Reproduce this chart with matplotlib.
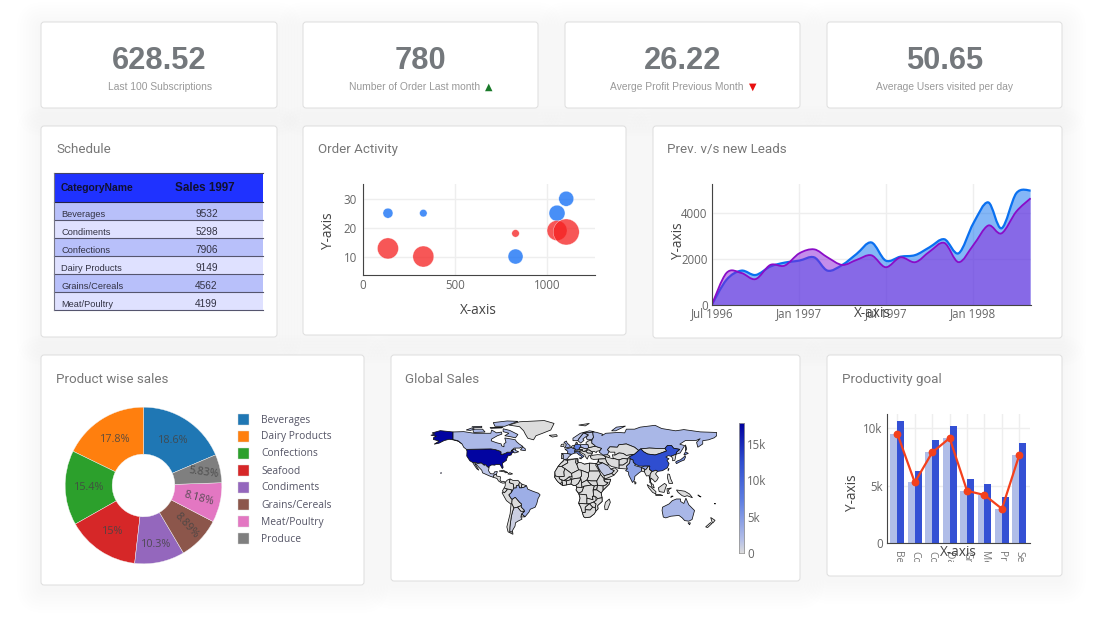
import numpy as np
import pandas as pd
import matplotlib
matplotlib.use("Agg")
import matplotlib.pyplot as plt
import matplotlib.dates as mdates
from matplotlib.colors import LinearSegmentedColormap, Normalize
from matplotlib.patches import FancyBboxPatch, PathPatch, Polygon, Rectangle
from matplotlib.path import Path
from matplotlib.transforms import Bbox

W, H = 1119, 629

# KPI cards
kpi_values = ["628.52", "780", "26.22", "50.65"]
kpi_labels = ["Last 100 Subscriptions", "Number of Order Last month", "Averge Profit Previous Month", "Average Users visited per day"]

# Schedule table
table_columns = ["CategoryName", "Sales 1997"]
table_names = ["Beverages", "Condiments", "Confections", "Dairy Products", "Grains/Cereals", "Meat/Poultry"]
table_sales = [9532, 5298, 7906, 9149, 4562, 4199]

# Order Activity bubbles
blue_x = [138, 330, 830, 1055, 1105]
blue_y = [25, 25, 10, 25, 30]
blue_size = [10, 7.5, 15, 16, 15]
red_x = [138, 330, 830, 1055, 1105]
red_y = [12.8, 10, 18, 19, 18.5]
red_size = [21, 21, 7.5, 20, 26]

# Prev vs new leads, monthly
lead_months = pd.date_range("1996-07-01", "1998-05-01", freq="MS")
prev_leads = [0, 1100, 1500, 1310, 1680, 1850, 1940, 2080, 1500, 1750, 2230, 2730, 1940, 2110, 2180, 2520, 2870, 2260, 3570, 4480, 3350, 4880, 5000]
new_leads = [0, 1400, 1400, 1130, 1750, 1720, 2260, 2430, 2080, 1750, 1970, 2170, 1650, 2080, 1870, 2330, 2710, 1870, 2620, 3470, 3130, 4080, 4660]

# Product wise sales
pie_names = ["Beverages", "Dairy Products", "Confections", "Seafood", "Condiments", "Grains/Cereals", "Meat/Poultry", "Produce"]
pie_values = [18.6, 17.8, 15.4, 15.0, 10.3, 8.89, 8.18, 5.83]
pie_labels = ["18.6%", "17.8%", "15.4%", "15%", "10.3%", "8.89%", "8.18%", "5.83%"]
pie_colors = ["#1f77b4", "#ff7f0e", "#2ca02c", "#d62728", "#9467bd", "#8c564b", "#e377c2", "#7f7f7f"]

# Productivity goal
goal_names = ["Beverages", "Condiments", "Confections", "Dairy Products", "Grains/Cereals", "Meat/Poultry", "Produce", "Seafood"]
goal_1997 = [9532, 5298, 7906, 9149, 4562, 4199, 3000, 7700]
goal_1998 = [10600, 6300, 9000, 10200, 5600, 5200, 4000, 8750]

# Global sales, rough country outlines as (lon, lat)
world = {
    "africa_base": [(-5.9,35.8),(9,37),(11,37),(11.5,32.5),(19,30.3),(25,31.6),(34,31.2),(37,22),(38.5,18),(43,12.5),(51,12),(49,6),(41.5,-1.5),(39.3,-4.7),(40.4,-10.5),(40.5,-15),(35,-20),(35.5,-24),(32.8,-26.8),(31,-30),(26,-34),(20,-34.8),(18,-33.5),(14.5,-22),(12,-17.3),(13.7,-11),(12.3,-6),(8.8,-1),(9.8,2.3),(8.5,4.6),(6,4.3),(2.7,6.3),(-2.8,5.2),(-7.5,4.4),(-13.3,9),(-17.4,14.7),(-17,21),(-13,27.7),(-9.8,31.5)],
    "usa": [(-124.7,48.4),(-95,49),(-89,48),(-84.5,46.5),(-82.5,45.3),(-82.5,42),(-79,43),(-76.5,44),(-75,45),(-71,45),(-69,47.3),(-67,45),(-70,43.5),(-70,41.7),(-74,40.5),(-75.5,37.5),(-76,35),(-81,31.5),(-80,26.5),(-81,25),(-82.7,28),(-84,30),(-89,30),(-90,29.2),(-94,29.5),(-97.3,27.5),(-97.2,25.9),(-99.5,27.5),(-101.5,29.8),(-103,29),(-106.5,31.8),(-111,31.3),(-114.8,32.5),(-117.1,32.5),(-120.5,34.5),(-122.5,37.5),(-124.3,40.3),(-124,46)],
    "alaska": [(-141,69.6),(-141,60.3),(-135,59),(-130,55),(-133,57.5),(-139,59.8),(-146,60.7),(-152,59),(-158,56),(-164,54.7),(-158,58.5),(-165,60.5),(-164.5,63),(-161,64.5),(-168,65.6),(-163,67),(-166.5,68.4),(-156.5,71.2)],
    "canada": [(-141,69.6),(-128,70),(-115,68),(-108,68),(-95,68),(-94,72),(-88,68.5),(-82,69.5),(-81.5,67),(-87,65),(-94,61),(-94.5,58.8),(-88,56.5),(-82.3,55),(-82,52.8),(-79,51.5),(-79,55),(-76.5,57),(-78,62.3),(-70,61),(-65,60),(-64,58),(-60.5,55),(-56,52),(-60,50),(-66.5,50),(-70,47),(-65,49),(-64.8,47),(-61,45.5),(-66,44),(-67,45),(-69,47.3),(-71,45),(-75,45),(-76.5,44),(-79,43),(-82.5,42),(-82.5,45.3),(-84.5,46.5),(-89,48),(-95,49),(-124.7,48.4),(-128,51),(-130,55),(-135,59),(-141,60.3)],
    "baffin": [(-80,73.5),(-72,71.5),(-62,66.5),(-65,62.5),(-72,64),(-78,65),(-73,68),(-80,70)],
    "victoria": [(-117,73),(-105,73),(-102,69.5),(-116,69)],
    "ellesmere": [(-90,76.5),(-78,76.5),(-62,82.5),(-75,83),(-92,81)],
    "banks": [(-125,72),(-118,74.5),(-115,73),(-120,71.5)],
    "devon": [(-96,75),(-80,75.5),(-82,74.5),(-95,74)],
    "melville": [(-118,76),(-106,76.5),(-106,75),(-116,74.8)],
    "newfoundland": [(-59,47.7),(-53,46.8),(-53,49),(-56,51.5),(-58,49)],
    "greenland": [(-73,78),(-60,82),(-30,83.5),(-18,80),(-22,72),(-32,68),(-40,65),(-43,60),(-50,62),(-53,67),(-55,71),(-60,76)],
    "mexico": [(-117.1,32.5),(-114.8,32.5),(-111,31.3),(-106.5,31.8),(-103,29),(-101.5,29.8),(-99.5,27.5),(-97.2,25.9),(-97.8,22.5),(-95.5,18.8),(-91.5,18.5),(-90.5,21),(-87,21.5),(-88.2,18),(-91,17.2),(-92.2,14.5),(-96,15.8),(-105,19.8),(-106,23),(-109.5,26.5),(-112.5,30),(-114.7,31.5),(-112,27),(-109.5,23),(-112,24.7),(-115,29)],
    "central_america": [(-92.2,14.5),(-91,17.2),(-88.2,18),(-88,16),(-83.2,15),(-83.7,11),(-82.5,9.5),(-79.5,9.5),(-77.3,8.5),(-78,7.5),(-80.5,7.3),(-83,8.2),(-85.7,10),(-87.5,13)],
    "cuba": [(-85,22),(-80,23),(-74.2,20.2),(-77.5,19.9),(-78,21)],
    "hispaniola": [(-74.4,18.5),(-72,20),(-68.4,18.6),(-71,18)],
    "hawaii": [(-156,19),(-155,19.7),(-155.8,20.2)],
    "colombia": [(-77.3,8.5),(-75,11),(-71.5,12.4),(-72.5,8),(-67.5,6.2),(-67,1.2),(-70,-4.2),(-70.2,-0.5),(-75,0),(-78.8,1.4),(-77.5,4)],
    "venezuela": [(-71.5,12.4),(-68,10.6),(-62,10.7),(-60,8.5),(-61,5),(-64,4),(-64,1.5),(-67,1.2),(-67.5,6.2),(-72.5,8)],
    "guyana": [(-60,8.5),(-57,6),(-58,1.5),(-60,1.5),(-61,5)],
    "suriname": [(-57,6),(-51.6,4.2),(-54.5,2.3),(-58,1.5)],
    "ecuador": [(-80.8,-2),(-78.8,1.4),(-75,0),(-75.5,-1.5),(-78.5,-4.5),(-80,-3.5)],
    "peru": [(-81.3,-4.5),(-80,-3.5),(-78.5,-4.5),(-75.5,-1.5),(-75,0),(-70.2,-0.5),(-70,-4.2),(-73,-7),(-70.5,-11),(-69,-12.5),(-69.5,-17.5),(-70.4,-18.3),(-76,-14)],
    "brazil": [(-51.6,4.2),(-50,0),(-44,-2.5),(-37,-5),(-35,-7),(-37.5,-11.5),(-39,-17.5),(-41,-22),(-47,-24.5),(-48.6,-28),(-53.4,-33.7),(-57.6,-30.2),(-54,-27),(-54.5,-25.5),(-58,-22),(-58,-20),(-57.8,-18),(-60.2,-16),(-65.3,-10),(-69,-12.5),(-70.5,-11),(-73,-7),(-70,-4.2),(-67,1.2),(-64,1.5),(-64,4),(-61,5),(-60,1.5),(-58,1.5),(-54.5,2.3)],
    "bolivia": [(-69,-12.5),(-65.3,-10),(-60.2,-16),(-57.8,-18),(-58,-20),(-62.5,-22),(-67,-23),(-69.5,-17.5)],
    "paraguay": [(-62.5,-22),(-58,-20),(-58,-22),(-54.5,-25.5),(-54.7,-27),(-58.5,-27)],
    "uruguay": [(-57.6,-30.2),(-53.4,-33.7),(-58.4,-34)],
    "argentina": [(-67,-23),(-62.5,-22),(-58.5,-27),(-54,-27),(-57.6,-30.2),(-58.4,-34),(-57,-36.5),(-62,-39),(-65,-41),(-65.5,-45),(-69,-51),(-68.4,-52.3),(-72,-52),(-71.8,-46),(-71,-40),(-70,-33),(-68.5,-27)],
    "chile": [(-69.5,-17.5),(-67,-23),(-68.5,-27),(-70,-33),(-71,-40),(-71.8,-46),(-72,-52),(-68.4,-52.3),(-68,-55),(-74,-52),(-75.5,-46),(-73.5,-38),(-71.5,-30),(-70.4,-18.3)],
    "morocco": [(-5.9,35.8),(-2,35),(-1.2,32),(-8.7,27.7),(-13,27.7),(-9.8,31.5),(-7,33.8)],
    "mauritania": [(-13,27.7),(-8.7,27.7),(-4.8,25),(-6,21),(-5.5,15.5),(-12,15),(-16.5,16),(-17,21)],
    "algeria": [(-2,35),(9,37),(8.3,32.5),(9.8,30),(12,23.5),(3.3,19),(-4.8,25),(-8.7,27.7),(-1.2,32)],
    "tunisia": [(9,37),(11,37),(10.2,34),(11.5,32.5),(9.8,30),(8.3,32.5)],
    "libya": [(11.5,32.5),(15,32.3),(19,30.3),(25,31.6),(25,20),(24,19.5),(15,23),(12,23.5),(9.8,30)],
    "egypt": [(25,31.6),(34,31.2),(32.5,29.5),(37,22),(25,22)],
    "mali": [(-12,15),(-5.5,15.5),(-6,21),(-4.8,25),(3.3,19),(4,15.3),(0.5,15),(-3,12),(-6,10.5),(-8.5,11),(-11.5,12.5)],
    "niger": [(4,15.3),(3.3,19),(12,23.5),(15,23),(15.5,16),(13.5,13.5),(8,13),(3.5,11.8)],
    "chad": [(15,23),(24,19.5),(24,15.5),(22,11),(15.5,7.5),(14.5,12.5),(13.5,13.5),(15.5,16)],
    "sudan": [(24,20),(25,22),(37,22),(38.5,18),(36.5,14.3),(34,10),(27,10),(22,11),(24,15.5)],
    "south_sudan": [(27,10),(34,10),(35,5),(31,3.7),(27.5,5),(24,8.5),(22,11)],
    "ethiopia": [(36.5,14.3),(38.5,18),(43,12.5),(42.5,11),(44,9),(48,8),(45,5),(41.5,3.9),(36,4.5),(35,5),(34,10)],
    "somalia": [(43,11.5),(51,12),(49,6),(41.5,-1.5),(41.5,3.9),(45,5),(48,8),(44,9)],
    "senegal": [(-16.5,16),(-12,15),(-11.5,12.5),(-8.5,11),(-8,8),(-10.8,6.8),(-13.3,9),(-15,11),(-17.4,14.7)],
    "ivory_coast": [(-8.5,11),(-6,10.5),(-3,10),(-2.8,5.2),(-7.5,4.4),(-8,8)],
    "liberia": [(-10.8,6.8),(-8,8),(-7.5,4.4)],
    "burkina": [(-6,10.5),(-3,12),(0.5,15),(3.5,11.8),(0,10.8),(-3,10)],
    "ghana": [(-3,10),(0,10.8),(3.5,11.8),(2.7,6.3),(-2.8,5.2)],
    "nigeria": [(2.7,6.3),(3.5,11.8),(8,13),(13.5,13.5),(14.5,12.5),(11.5,6.8),(8.5,4.6),(6,4.3)],
    "cameroon": [(8.5,4.6),(11.5,6.8),(14.5,12.5),(15.5,7.5),(16,2),(9.8,2.3)],
    "car": [(15.5,7.5),(22,11),(24,8.5),(27.5,5),(18.5,3.5),(16,2)],
    "gabon": [(9.8,2.3),(16,2),(18.5,3.5),(16,-3),(12,-5),(8.8,-1)],
    "drc": [(18.5,3.5),(27.5,5),(31,3.7),(29.5,-1),(30,-8),(28.5,-9),(29.5,-13),(22,-11),(21.5,-7),(12.3,-6),(12,-5),(16,-3)],
    "angola": [(12.3,-6),(21.5,-7),(22,-11),(22,-18),(12,-17.3),(13.7,-11)],
    "zambia": [(22,-11),(29.5,-13),(28.5,-9),(33,-9.5),(33,-14),(30,-15.8),(25,-17.8),(22,-18)],
    "uganda": [(31,3.7),(35,5),(34,0),(29.7,-1)],
    "kenya": [(35,5),(36,4.5),(41.5,3.9),(41.5,-1.5),(39.3,-4.7),(34,-1)],
    "tanzania": [(29.7,-1),(34,-1),(39.3,-4.7),(40.4,-10.5),(34.9,-11.5),(33,-9.5),(30,-8)],
    "mozambique": [(40.4,-10.5),(40.5,-15),(35,-20),(35.5,-24),(32.8,-26.8),(32,-22.3),(33,-18),(30,-15.8),(33,-14),(34.9,-11.5)],
    "zimbabwe": [(25,-17.8),(30,-15.8),(33,-18),(32,-22.3),(29,-22)],
    "namibia": [(12,-17.3),(22,-18),(25,-17.8),(20,-22),(20,-28.5),(16.5,-28.5),(14.5,-22)],
    "botswana": [(20,-22),(25,-17.8),(29,-22),(26,-25.5),(20,-25)],
    "south_africa": [(16.5,-28.5),(20,-28.5),(20,-25),(26,-25.5),(29,-22),(32,-22.3),(32.8,-26.8),(31,-30),(26,-34),(20,-34.8),(18,-33.5)],
    "madagascar": [(49.3,-12),(50.5,-16),(47,-25),(44,-25),(43.5,-21),(44.5,-16)],
    "spain": [(-9.2,43.5),(-1.8,43.4),(3.2,42.4),(0,39.5),(-2,36.8),(-5.5,36),(-7,37.2),(-7,42)],
    "portugal": [(-9,42),(-7,42),(-7,37.2),(-9,37)],
    "france": [(-1.8,43.4),(-1.2,46),(-4.7,48.5),(1.5,50.2),(2.5,51),(6,49.5),(8,49),(7.5,47.5),(7,46),(7.5,44),(3.2,42.4)],
    "uk": [(-5.5,50),(1.5,51.2),(1.5,53),(-2,56),(-3,58.6),(-6,57),(-3,54)],
    "ireland": [(-10,52),(-6,52),(-6,55),(-9,54.5)],
    "iceland": [(-24,65.5),(-15,66.3),(-14,64.5),(-20,63.4)],
    "germany": [(6,51),(7,53.5),(9,54.8),(14,54),(15,51),(12.5,50),(13.5,48.5),(10,47.5),(7.5,47.5),(8,49),(6,49.5)],
    "benelux": [(2.5,51),(4.5,53),(7,53.5),(6,51),(6,49.5)],
    "italy": [(7.5,44),(7,46),(13.5,46.5),(12.3,44.5),(16,41.8),(18.5,40),(16,38),(15.5,40),(12,42),(10,44)],
    "sicily": [(12.5,38),(15.5,38.2),(15,36.7)],
    "austria": [(7.5,47.5),(10,47.5),(13.5,48.5),(17,48),(16,46.7),(13.5,46.5),(7,46)],
    "poland": [(14,54),(19,54.5),(23.5,54),(24,50.5),(22.5,49),(19,49.4),(15,51)],
    "hungary": [(12.5,50),(15,51),(19,49.4),(22.5,49),(22,47.5),(18,45.8),(16,46.7),(17,48),(13.5,48.5)],
    "romania": [(22,47.5),(24.5,48),(28.2,45.5),(29,44.8),(28.5,43.7),(23,43.8),(21,45.5)],
    "balkans": [(13.5,46.5),(16,46.7),(18,45.8),(21,45.5),(23,43.8),(28.5,43.7),(28,42),(26,41),(24,40.5),(23,38),(22.5,36.5),(20,39.7),(19.5,42),(14,45)],
    "ukraine": [(24,50.5),(32,52.3),(40,49.6),(38,47),(34,46),(33.5,44.5),(30.5,46),(28.2,45.5),(24.5,48),(22,47.5),(22.5,49)],
    "belarus": [(23.5,54),(21,55),(21,57),(24.5,59),(28,59.5),(28,56),(32,53),(32,52.3),(24,50.5)],
    "norway": [(5,59),(5,62),(14,68),(25,71),(31,70),(25,68.7),(18,68.5),(12,61),(11,59)],
    "sweden": [(11,59),(12,61),(18,68.5),(24,66),(21,64),(17,61),(18.5,59.5),(14.5,56)],
    "finland": [(24,66),(18,68.5),(25,68.7),(29,69.5),(30,63),(28,60.5),(22.5,60),(21,63)],
    "denmark": [(8.2,55),(9,57.3),(10.8,56),(9.8,54.9)],
    "turkey": [(26,40),(29,41.2),(35,42),(41.5,41.5),(44.5,39.5),(44.5,37),(36,36.5),(30,36.2),(27.3,37)],
    "caucasus": [(41.5,41.5),(47,42),(50,40),(48.5,38.5),(44.5,39.5)],
    "russia": [(28,56),(28,59.5),(30,63),(29,69.5),(33,69.3),(41,67),(40,65),(45,68),(60,69),(68,68.5),(70,73),(80,73),(87,75.5),(105,77.7),(113,73.8),(130,71),(140,72.5),(160,69.7),(180,69),(180,65),(177,62.5),(170,60),(163,59),(163,55),(157,51),(155.5,57),(160,61.5),(155,59.3),(142,59.2),(135,54.7),(141,53),(135.5,44),(130.5,42.5),(131,45),(135,48.4),(127.5,49.8),(125,53),(120,53),(117,49.6),(108,49.5),(98,50),(87.5,49),(85,47),(80,51),(70,55),(61,54),(59,51),(50,51.5),(47,48),(49,46),(47,42),(41.5,41.5),(37,45),(38,47),(40,49.6),(32,52.3),(32,53)],
    "kazakhstan": [(47,48),(50,51.5),(59,51),(61,54),(70,55),(80,51),(85,47),(80,42.5),(70,41),(66,43.5),(61,44),(56,41.3),(56,45),(50,45)],
    "central_asia": [(53,42),(56,41.3),(61,44),(66,43.5),(70,41),(80,42.5),(74,39.5),(71,36.8),(66,37.3),(61,35.5),(54,37.5)],
    "mongolia": [(87.5,49),(98,50),(108,49.5),(117,49.6),(119,46.5),(111,43.5),(105,41.6),(96,42.7),(91,45.5)],
    "china": [(74,39.5),(80,42.5),(85,47),(87.5,49),(91,45.5),(96,42.7),(105,41.6),(111,43.5),(119,46.5),(117,49.6),(120,53),(125,53),(127.5,49.8),(135,48.4),(131,45),(130.5,42.5),(124.5,40),(121,40.8),(118,39),(122,37),(119.5,35),(122,31),(120,26),(114,22.5),(108,21.6),(106,23),(102,21.5),(98,24),(98.5,28),(92,28),(86,28),(81,30.3),(78.5,32.5),(78,35.5),(74.5,37)],
    "india": [(74.5,37),(78,35.5),(78.5,32.5),(81,30.3),(80,28.8),(88,26.5),(92,28),(97,28),(94,24),(92,23),(91.5,25),(88.5,25.8),(88.5,22),(85,19.5),(80.3,15.5),(80,11.5),(77.5,8),(73,17),(72.5,21),(69,22.5),(71,24.5),(70,28),(74,32)],
    "pakistan": [(61,29.5),(61,25.2),(67,24.8),(71,24.5),(70,28),(74,32),(74.5,37),(71,36.8),(71,33),(66,29.5)],
    "afghanistan": [(61,35.5),(66,37.3),(71,36.8),(71,33),(66,29.5),(61,29.5)],
    "iran": [(44.5,39.5),(48.5,38.5),(54,36.8),(54,37.5),(61,35.5),(61,25.2),(57,26.5),(52,27.5),(48.5,30),(46,33),(44.5,37)],
    "iraq": [(36,36.5),(44.5,37),(46,33),(48.5,30),(46.5,29),(41,32),(36,33)],
    "levant": [(36,36.5),(36,33),(41,32),(34.8,29.3),(34,31.2),(35.5,34)],
    "saudi": [(34.8,29.3),(41,32),(46.5,29),(48.5,28),(51,24.5),(55.5,22.5),(52,19),(44,16.5),(42.8,16.5),(39,21),(36,26)],
    "oman": [(51,24.5),(56.3,26),(59.8,22.5),(55,17),(52,19),(55.5,22.5)],
    "yemen": [(42.8,16.5),(44,16.5),(52,19),(55,17),(52,15.5),(45,12.8),(43.3,12.8)],
    "bangladesh": [(88.5,25.8),(91.5,25),(92,23),(92,21),(88.5,22)],
    "myanmar": [(92,21),(92,23),(94,24),(97,28),(98.5,28),(98,24),(101,21.5),(99,18),(98.7,11),(97.5,16.5),(94.5,16)],
    "indochina": [(99,18),(101,21.5),(102,21.5),(106,23),(108,21.6),(105.5,18.5),(109,14),(107,10.5),(104.8,8.7),(103,11),(100,13.5),(99.5,9),(101,6.5),(98.5,8)],
    "malaysia": [(100,6.5),(102.5,6),(104,1.4),(101,3)],
    "sumatra": [(95.3,5.6),(100,2.5),(106,-3),(105.8,-5.8),(102,-4),(97,2)],
    "java": [(105.5,-6.5),(111,-6.5),(114.5,-7.8),(106,-7.7)],
    "borneo": [(109,1.5),(116.5,7),(119,5),(117.5,1),(116,-4),(110,-3)],
    "sulawesi": [(119.5,0.5),(125,1.5),(121,-1),(122.5,-5),(120,-5.5)],
    "new_guinea": [(131,-1),(141,-2.5),(147,-6),(150.5,-10.5),(144,-8),(141,-9),(138,-8),(133,-4)],
    "philippines": [(120.5,18.5),(122.5,18),(124,12.5),(126.5,7),(122,7),(120,14)],
    "taiwan": [(121,25),(122,25),(120.8,22)],
    "sri_lanka": [(80,9.7),(82,7.5),(80.5,6)],
    "honshu": [(130,33),(132,34.3),(136,35.8),(140,39),(141.5,41),(142,39),(140.5,35.5),(136,33.7),(131,31)],
    "hokkaido": [(140,42),(142,45.5),(145.5,43.5),(141.5,42)],
    "korea": [(124.5,40),(130.5,42.5),(129.5,37),(129,35),(126.3,34.5),(126.5,37.5)],
    "australia": [(114,-22),(122,-18),(126,-14),(131,-12),(136,-12),(136,-15),(140,-17.5),(142.5,-11),(146,-19),(153,-26),(150,-37),(146,-39),(141,-38.3),(138,-35),(134,-32),(124,-33),(118,-35),(115,-34),(113.5,-26)],
    "tasmania": [(145,-41),(148,-41),(147,-43.5)],
    "nz_north": [(172.7,-34.5),(178,-38),(175,-41.5),(174,-39)],
    "nz_south": [(172.5,-40.7),(174,-42),(169,-46.7),(166.5,-46)],
    "sakhalin": [(142,54),(143.5,49),(142,46),(142,50)],
    "novaya_zemlya": [(52,71),(57,71),(69,76.8),(58,75.5)],
    "svalbard": [(12,78),(25,80),(20,77)],
    "timor": [(124,-10),(127,-8.5),(125,-8.5)],
    "solomon": [(157,-7),(161,-9.5),(159,-9)],
    "fiji": [(177,-17.5),(178.6,-17.5),(178,-18.2)],
}
world_sales = {
    "usa": 17500, "alaska": 17500, "hawaii": 17500, "china": 12500, "germany": 7000, "italy": 6000,
    "sicily": 6000, "honshu": 5500, "hokkaido": 5500, "india": 4000, "france": 4500, "uk": 3000,
    "brazil": 3200, "canada": 2400, "baffin": 2400, "victoria": 2400, "ellesmere": 2400, "banks": 2400,
    "devon": 2400, "melville": 2400, "newfoundland": 2400, "russia": 2500, "sakhalin": 2500,
    "novaya_zemlya": 2500, "australia": 2500, "tasmania": 2500, "mexico": 1500, "saudi": 1300,
    "sweden": 2000, "norway": 1500, "poland": 2000, "finland": 1500, "spain": 1500, "argentina": 800,
}

map_colors = LinearSegmentedColormap.from_list(
    "sales", [(0, "#dcdcdc"), (0.1, "#b4bfe8"), (0.4, "#5f7fe2"), (0.7, "#2f4fd0"), (1, "#00009e")])
map_norm = Normalize(0, 17800)

fig = plt.figure(figsize=(W / 100, H / 100), dpi=100, facecolor="white")


def box_axes(x0, y0, x1, y1):
    ax = fig.add_axes([x0 / W, 1 - y1 / H, (x1 - x0) / W, (y1 - y0) / H])
    ax.patch.set_alpha(0)
    return ax


def label(x, y, s, **kw):
    kw.setdefault("ha", "center")
    kw.setdefault("va", "center")
    return fig.text(x / W, 1 - y / H, s, **kw)


def plotly_style(ax):
    ax.spines[["top", "right"]].set_visible(False)
    ax.spines[["left", "bottom"]].set_color("#444444")
    ax.grid(color="#eeeeee", lw=1)
    ax.set_axisbelow(True)
    ax.tick_params(length=0, labelsize=8.3, labelcolor="#666666", pad=3)
    for t in ax.get_xticklabels() + ax.get_yticklabels():
        t.set_fontfamily("Open Sans")


def spline_path(xs, ys, close_to=None):
    # same kind of curve as a plotly spline, one bezier per month
    pts = np.column_stack([xs, ys]).astype(float)
    verts = [pts[0]]
    codes = [Path.MOVETO]
    for i in range(len(pts) - 1):
        before = pts[max(i - 1, 0)]
        after = pts[min(i + 2, len(pts) - 1)]
        verts += [pts[i] + (pts[i + 1] - before) / 6, pts[i + 1] - (after - pts[i]) / 6, pts[i + 1]]
        codes += [Path.CURVE4] * 3
    if close_to is not None:
        verts += [(pts[-1, 0], close_to), (pts[0, 0], close_to), pts[0]]
        codes += [Path.LINETO, Path.LINETO, Path.CLOSEPOLY]
    return Path(verts, codes)


# page background, cards with a soft shadow
page = fig.add_axes([0, 0, 1, 1], zorder=-5)
page.set_xlim(0, W)
page.set_ylim(H, 0)
page.axis("off")
cards = [(41, 22, 277, 108), (303, 22, 538, 108), (565, 22, 800, 108), (827, 22, 1062, 108),
         (41, 126, 277, 337), (303, 126, 626, 335), (653, 126, 1062, 338),
         (41, 355, 364, 585), (391, 355, 800, 581), (827, 355, 1062, 576)]
for x0, y0, x1, y1 in cards:
    for grow in range(24, 0, -3):
        page.add_patch(FancyBboxPatch((x0 - grow, y0 - grow + 4), x1 - x0 + 2 * grow, y1 - y0 + 2 * grow,
                                      boxstyle="round,pad=0,rounding_size=%d" % (grow + 3), fc="black", ec="none", alpha=0.004))
for x0, y0, x1, y1 in cards:
    page.add_patch(FancyBboxPatch((x0, y0), x1 - x0, y1 - y0, boxstyle="round,pad=0,rounding_size=3",
                                  fc="white", ec="#dddddd", lw=0.7))

# KPI row
kpi_centers = [159, 420.5, 682.5, 944.5]
for cx, v in zip(kpi_centers, kpi_values):
    label(cx, 61, v, fontsize=22.2, fontweight="bold", family="Liberation Sans", color="#74787c")
label(160, 87, kpi_labels[0], fontsize=7.4, family="Liberation Sans", color="#999999")
label(414.5, 87, kpi_labels[1], fontsize=7.4, family="Liberation Sans", color="#999999")
label(489, 86.5, "\u25b2", fontsize=7, color="#1a7a2a", family="DejaVu Sans")
label(676.5, 87, kpi_labels[2], fontsize=7.4, family="Liberation Sans", color="#999999")
label(752.5, 86.5, "\u25bc", fontsize=7, color="#e81010", family="DejaVu Sans")
label(944.5, 87, kpi_labels[3], fontsize=7.4, family="Liberation Sans", color="#999999")

# card titles
titles = [("Schedule", 56, 149.5), ("Order Activity", 318, 149.5), ("Prev. v/s new Leads", 667, 149.5),
          ("Product wise sales", 56, 379.5), ("Global Sales", 405, 379.5), ("Productivity goal", 842, 379.5)]
for s, x, y in titles:
    label(x, y, s, ha="left", fontsize=9.6, family="Roboto", color="#777777")

# Schedule table
page.add_patch(Rectangle((53.5, 172.7), 209.5, 29.6, fc="#1f32ff", ec="none"))
label(61, 188, table_columns[0], ha="left", fontsize=7.4, fontweight="bold", family="Liberation Sans", color="#101030")
label(204.5, 188, table_columns[1], fontsize=8.4, fontweight="bold", family="Liberation Sans", color="#101030")
page.plot([53.5, 263], [172.7, 172.7], color="#444466", lw=0.8)
page.plot([53.5, 263], [202.3, 202.3], color="#222244", lw=0.8)
for i, (name, sales) in enumerate(zip(table_names, table_sales)):
    top = 202.3 + 17.95 * i
    page.add_patch(Rectangle((53.5, top), 209.5, 17.95, fc="#b8c0fa" if i % 2 == 0 else "#dfe1ff", ec="none"))
    page.plot([53.5, 263], [top + 17.95, top + 17.95], color="#55556e", lw=0.8)
    label(61, top + 12, name, ha="left", fontsize=6.7, family="Liberation Sans", color="#333344")
    label(206.5, top + 12, str(sales), fontsize=7.3, family="Liberation Sans", color="#333344")
page.plot([53.5, 53.5], [172.7, 309.8], color="#777788", lw=0.8)

# Order Activity
ax = box_axes(362.5, 184.3, 595, 275.3)
ax.scatter(blue_x, blue_y, s=(np.array(blue_size) * 0.72) ** 2, c="#1a73f5", alpha=0.8, ec="white", lw=0.3)
ax.scatter(red_x, red_y, s=(np.array(red_size) * 0.72) ** 2, c="#f51f1f", alpha=0.75, ec="white", lw=0.3)
ax.set_xlim(0, 1261)
ax.set_ylim(3.5, 35)
ax.set_xticks([0, 500, 1000])
ax.set_yticks([10, 20, 30])
plotly_style(ax)
ax.tick_params(axis="x", pad=2.5)
ax.tick_params(axis="y", pad=4)
label(478, 311, "X-axis", fontsize=9.8, family="Open Sans", color="#444444")
label(329, 231, "Y-axis", fontsize=9.8, family="Open Sans", color="#444444", rotation=90)

# Prev vs new leads
ax = box_axes(711.7, 184.3, 1030.6, 305)
lead_x = mdates.date2num(lead_months)
ax.add_patch(PathPatch(spline_path(lead_x, prev_leads, 0), fc="#0a70f0", ec="none", alpha=0.5))
ax.add_patch(PathPatch(spline_path(lead_x, prev_leads), fc="none", ec="#0a70f0", lw=1.6))
ax.add_patch(PathPatch(spline_path(lead_x, new_leads, 0), fc="#8a1cd8", ec="none", alpha=0.5))
ax.add_patch(PathPatch(spline_path(lead_x, new_leads), fc="none", ec="#8a0cc8", lw=1.3))
ax.set_xlim(lead_x[0], lead_x[0] + 669)
ax.set_ylim(0, 5270)
ax.set_yticks([0, 2000, 4000])
ax.set_xticks(mdates.date2num(pd.to_datetime(["1996-07-01", "1997-01-01", "1997-07-01", "1998-01-01"])))
ax.set_xticklabels(["Jul 1996", "Jan 1997", "Jul 1997", "Jan 1998"])
plotly_style(ax)
ax.tick_params(axis="x", pad=1.5)
label(872, 313.5, "X-axis", fontsize=9.8, family="Open Sans", color="#444444")
label(678, 241, "Y-axis", fontsize=9.8, family="Open Sans", color="#444444", rotation=90)

# Product wise sales, donut reads clockwise from the top with Beverages first
ax = box_axes(64, 406, 223, 565)
wedges, _ = ax.pie(pie_values, colors=pie_colors, startangle=90 - 360 * pie_values[0] / sum(pie_values),
                   radius=1, wedgeprops=dict(width=0.6, ec="#f4f4f4", lw=0.3))
ax.set_xlim(-1.015, 1.015)
ax.set_ylim(-1.015, 1.015)
pie_rotation = [0, 0, 0, 0, 0, -48, -15, -8]
pie_radius = [0.69, 0.69, 0.7, 0.71, 0.77, 0.75, 0.73, 0.78]
for w, s, rot, r in zip(wedges, pie_labels, pie_rotation, pie_radius):
    mid = np.deg2rad((w.theta1 + w.theta2) / 2)
    ax.text(r * np.cos(mid), r * np.sin(mid), s, rotation=rot, ha="center", va="center",
            fontsize=7.8, family="Open Sans", color="#444444", alpha=0.85)
for i, (name, c) in enumerate(zip(pie_names, pie_colors)):
    y = 419.3 + 17 * i
    page.add_patch(Rectangle((237.5, y - 5.5), 11, 11, fc=c, ec="#dddddd", lw=0.3))
    label(261, y + 0.7, name, ha="left", fontsize=7.4, family="Open Sans", color="#555566")

# Global sales
ax = box_axes(421, 418, 716.7, 560.6)
ax.set_xlim(-180, 180)
ax.set_ylim(-87, 86.6)
ax.axis("off")
for name, outline in world.items():
    ax.add_patch(Polygon(outline, closed=True, fc=map_colors(map_norm(world_sales.get(name, 0))), ec="#111111", lw=0.55))
bar_ax = box_axes(738.7, 423.3, 744.3, 553.3)
bar_ax.imshow(np.linspace(1, 0, 256)[:, None], aspect="auto", cmap=map_colors, extent=(0, 1, 0, 17800))
bar_ax.set_xticks([])
bar_ax.yaxis.tick_right()
bar_ax.set_yticks([0, 5000, 10000, 15000])
bar_ax.set_yticklabels(["0", "5k", "10k", "15k"])
bar_ax.tick_params(length=0, labelsize=8.3, labelcolor="#666666", pad=2)
for s in bar_ax.spines.values():
    s.set_color("#999999")
    s.set_linewidth(0.6)
for t in bar_ax.get_yticklabels():
    t.set_fontfamily("Open Sans")

# Productivity goal
ax = box_axes(886.7, 414.3, 1030, 543.3)
pos = np.arange(len(goal_names))
ax.bar(pos - 0.2, goal_1997, width=0.4, color="#b0bde8", zorder=2)
ax.bar(pos + 0.2, goal_1998, width=0.4, color="#3450d4", zorder=2)
ax.plot(pos, goal_1997, color="#f4401c", lw=1.6, marker="o", ms=4.6, zorder=3)
ax.set_xlim(-0.61, 7.61)
ax.set_ylim(0, 11220)
ax.set_yticks([0, 5000, 10000])
ax.set_yticklabels(["0", "5k", "10k"])
ax.set_xticks(pos)
ax.set_xticklabels(goal_names, rotation=-90, ha="center", va="top")
plotly_style(ax)
ax.tick_params(axis="x", labelsize=7.4, pad=5.5, labelcolor="#777777")
clip = Bbox([[880, H - 561.7], [1040, H - 540]])
for t in ax.get_xticklabels():
    t.set_clip_box(clip)
    t.set_clip_on(True)
label(958, 553, "X-axis", fontsize=9.8, family="Open Sans", color="#444444")
label(853, 493, "Y-axis", fontsize=9.8, family="Open Sans", color="#444444", rotation=90)

fig.savefig("out.png", dpi=100)
